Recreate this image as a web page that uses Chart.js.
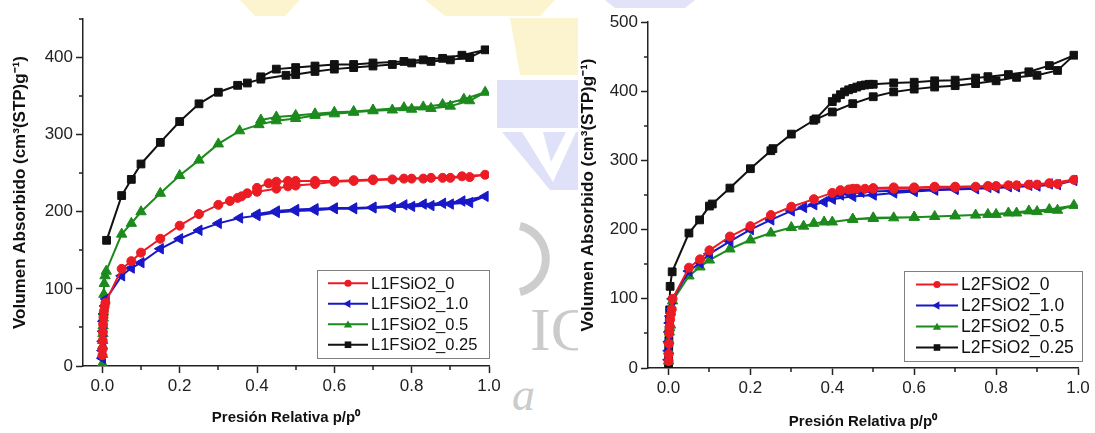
<!DOCTYPE html>
<html>
<head>
<meta charset="utf-8">
<script src="https://cdn.jsdelivr.net/npm/chart.js@4.4.0/dist/chart.umd.min.js"></script>
<style>
  html, body { margin: 0; padding: 0; background: #fff; }
  #wrap { position: relative; width: 1095px; height: 433px; overflow: hidden; }
  #bg { position: absolute; left: 0; top: 0; }
  .panel { position: absolute; top: 0; height: 433px; }
  #left { left: 0; width: 548px; }
  #right { left: 548px; width: 547px; }
</style>
</head>
<body>
<div id="wrap">
  <!-- faint page watermark behind the two plots -->
  <svg id="bg" width="1095" height="433">
    <polygon points="240,0 300,0 285,16 255,16" fill="#fcf4cf"/>
    <polygon points="425,0 555,0 540,16 445,16" fill="#fcf4cf"/>
    <polygon points="605,0 695,0 685,8 615,8" fill="#e2e3f9"/>
    <polygon points="510,18 578,18 578,75 520,75" fill="#fcf4cf"/>
    <rect x="497" y="80" width="81" height="48" fill="#dfe1f9"/>
    <polygon points="502,132 578,132 578,190 550,190" fill="#dfe1f9"/>
    <polygon points="522,132 543,132 551,162 566,132 576,132 553,182" fill="#ffffff"/>
    <path d="M 520 226 A 34 34 0 0 1 520 292" stroke="#cdcdcd" stroke-width="8" fill="none"/>
    <text x="530" y="350" font-family="Liberation Serif, serif" font-size="62" fill="#cbcbcb">IC</text>
    <text x="512" y="410" font-family="Liberation Serif, serif" font-style="italic" font-size="46" fill="#cbcbcb">a</text>
    <rect x="0" y="17" width="497" height="416" fill="#ffffff"/>
    <rect x="578" y="9" width="517" height="424" fill="#ffffff"/>
  </svg>
  <div class="panel" id="left"><canvas id="c1"></canvas></div>
  <div class="panel" id="right"><canvas id="c2"></canvas></div>
</div>
<script>
// axis ticks
const xMajor = [0, 0.2, 0.4, 0.6, 0.8, 1.0];
const xMinor = [0.1, 0.3, 0.5, 0.7, 0.9];
const y1Major = [0, 100, 200, 300, 400];
const y1Minor = [50, 150, 250, 350, 450];
const y2Major = [0, 100, 200, 300, 400, 500];
const y2Minor = [50, 150, 250, 350, 450];

const labels1 = ['L1FSiO2_0', 'L1FSiO2_1.0', 'L1FSiO2_0.5', 'L1FSiO2_0.25'];
const labels2 = ['L2FSiO2_0', 'L2FSiO2_1.0', 'L2FSiO2_0.5', 'L2FSiO2_0.25'];

// ---- left panel (L1), adsorption branch then desorption branch ----
const l1P_0 = [0.0003, 0.0006, 0.001, 0.0015, 0.002, 0.003, 0.004, 0.006, 0.008,
  0.05, 0.075, 0.1, 0.15, 0.2, 0.25, 0.3, 0.33, 0.35, 0.36, 0.375, 0.4, 0.45, 0.48, 0.5, 0.55, 0.6, 0.65, 0.7, 0.75, 0.8, 0.85, 0.9, 0.95, 0.99,
  0.93, 0.88, 0.83, 0.78, 0.7, 0.65, 0.6, 0.55, 0.5, 0.48, 0.45, 0.43, 0.4];
const l1V_0 = [14, 22, 33, 44, 54, 63, 71, 77, 82,
  126, 136, 147, 165, 182, 197, 209, 214, 218, 220, 224, 226, 230, 233, 234, 236, 239, 240, 241, 242, 243, 244, 244, 245, 248,
  246, 244, 243, 243, 242, 241, 240, 240, 240, 240, 239, 237, 231];

const l1P_1 = [0.0003, 0.0006, 0.001, 0.002, 0.003, 0.005, 0.007, 0.01,
  0.05, 0.075, 0.1, 0.15, 0.2, 0.25, 0.3, 0.355, 0.4, 0.45, 0.5, 0.55, 0.6, 0.65, 0.7, 0.75, 0.8, 0.85, 0.9, 0.95, 0.99,
  0.93, 0.88, 0.83, 0.78, 0.7, 0.65, 0.6, 0.55, 0.5, 0.45, 0.4];
const l1V_1 = [10, 20, 32, 45, 58, 68, 78, 87,
  117, 127, 134, 152, 165, 176, 185, 192, 195, 199, 201, 202, 204, 204, 205, 206, 207, 208, 210, 212, 220,
  214, 211, 210, 209, 206, 205, 205, 204, 203, 201, 197];

const l1P_05 = [0.0002, 0.0004, 0.0007, 0.001, 0.0015, 0.002, 0.0025, 0.003, 0.004, 0.005, 0.007, 0.01,
  0.05, 0.075, 0.1, 0.15, 0.2, 0.25, 0.3, 0.355, 0.405, 0.45, 0.5, 0.55, 0.6, 0.65, 0.7, 0.75, 0.8, 0.85, 0.9, 0.95, 0.99,
  0.935, 0.88, 0.83, 0.78, 0.7, 0.65, 0.6, 0.55, 0.5, 0.45, 0.41];
const l1V_05 = [3, 15, 26, 33, 42, 52, 62, 70, 93, 107, 117, 123,
  171, 185, 200, 224, 247, 267, 288, 305, 313, 318, 321, 325, 327, 329, 331, 332, 333, 334, 337, 344, 355,
  346, 339, 336, 335, 332, 330, 329, 327, 325, 323, 319];

const l1P_025 = [0.011, 0.05, 0.075, 0.1, 0.15, 0.2, 0.25, 0.3, 0.35, 0.375, 0.41, 0.475, 0.5, 0.55, 0.6, 0.65, 0.7, 0.75, 0.8, 0.85, 0.9, 0.95, 0.99,
  0.93, 0.88, 0.83, 0.78, 0.7, 0.65, 0.6, 0.55, 0.5, 0.45, 0.41];
const l1V_025 = [163, 221, 242, 262, 290, 317, 340, 355, 364, 367, 372, 377, 378, 382, 385, 387, 389, 391, 393, 395, 397, 400, 410,
  403, 399, 397, 395, 393, 391, 391, 389, 387, 385, 375];

// ---- right panel (L2) ----
const l2P_0 = [0.0003, 0.0006, 0.001, 0.002, 0.003, 0.004, 0.006, 0.008,
  0.01, 0.05, 0.077, 0.1, 0.15, 0.2, 0.25, 0.3, 0.355, 0.4, 0.42, 0.44, 0.46, 0.48, 0.5, 0.55, 0.6, 0.65, 0.7, 0.75, 0.8, 0.85, 0.9, 0.95, 0.99,
  0.93, 0.88, 0.83, 0.78, 0.7, 0.65, 0.6, 0.55, 0.5, 0.45, 0.42];
const l2V_0 = [10, 20, 35, 50, 60, 70, 78, 85,
  100, 145, 157, 170, 190, 205, 221, 233, 244, 253, 256, 258, 259, 259, 259, 259, 260, 261, 261, 262, 263, 264, 265, 266, 272,
  267, 265, 264, 263, 262, 262, 261, 261, 260, 259, 257];

const l2P_1 = [0.0003, 0.0006, 0.001, 0.002, 0.003, 0.005, 0.007,
  0.01, 0.05, 0.077, 0.1, 0.15, 0.2, 0.25, 0.3, 0.33, 0.355, 0.38, 0.4, 0.45, 0.5, 0.55, 0.6, 0.65, 0.7, 0.75, 0.8, 0.85, 0.9, 0.95, 0.99,
  0.93, 0.88, 0.83, 0.78, 0.7, 0.65, 0.6, 0.55, 0.5, 0.47, 0.44, 0.42, 0.4];
const l2V_1 = [12, 25, 38, 52, 65, 75, 85,
  100, 140, 152, 165, 183, 200, 214, 227, 232, 236, 240, 244, 248, 250, 253, 255, 257, 258, 259, 260, 262, 263, 265, 271,
  266, 264, 262, 261, 259, 258, 257, 256, 255, 254, 252, 250, 246];

const l2P_05 = [0.0003, 0.0006, 0.001, 0.002, 0.003, 0.005,
  0.01, 0.05, 0.077, 0.1, 0.15, 0.2, 0.25, 0.3, 0.33, 0.355, 0.38, 0.4, 0.45, 0.5, 0.55, 0.6, 0.65, 0.7, 0.75, 0.8, 0.85, 0.9, 0.95, 0.99,
  0.93, 0.88, 0.83, 0.78, 0.7, 0.6, 0.5, 0.45];
const l2V_05 = [10, 25, 40, 52, 58, 62,
  97, 133, 146, 156, 172, 185, 195, 203, 205, 209, 211, 211, 215, 216, 217, 218, 219, 220, 221, 222, 224, 226, 228, 235,
  229, 227, 224, 222, 220, 218, 217, 215];

const l2P_025 = [0.0002, 0.0004, 0.0007, 0.001, 0.0015, 0.002, 0.003,
  0.004, 0.009, 0.05, 0.076, 0.1, 0.107, 0.15, 0.2, 0.25, 0.255, 0.3, 0.355, 0.4, 0.45, 0.5, 0.55, 0.6, 0.65, 0.7, 0.75, 0.8, 0.85, 0.9, 0.95, 0.99,
  0.93, 0.88, 0.83, 0.78, 0.75, 0.7, 0.65, 0.6, 0.55, 0.5, 0.49, 0.48, 0.47, 0.46, 0.45, 0.44, 0.43, 0.42, 0.41, 0.4, 0.36];
const l2V_025 = [0, 15, 30, 40, 55, 70, 84,
  118, 139, 195, 214, 234, 237, 260, 288, 314, 317, 338, 358, 370, 382, 392, 399, 403, 406, 408, 411, 415, 420, 423, 430, 452,
  437, 428, 424, 421, 419, 416, 415, 413, 412, 410, 410, 409, 408, 406, 404, 402, 399, 395, 390, 385, 360];

const RED = '#ec1c24', BLUE = '#1818c8', GREEN = '#1d8a1d', BLACK = '#111111';
const FONT = '"Liberation Sans", Arial, sans-serif';

const pts = (xs, ys) => xs.map((x, i) => ({ x: x, y: ys[i] }));

function series(label, xs, ys, color, style, radius, rotation) {
  return {
    label: label,
    data: pts(xs, ys),
    borderColor: color,
    backgroundColor: color,
    pointBackgroundColor: color,
    pointBorderColor: color,
    pointStyle: style,
    pointRadius: radius,
    pointRotation: rotation || 0,
    pointBorderWidth: 1,
    borderWidth: 2,
    showLine: true,
    tension: 0
  };
}

// marker used by the legend box
function marker(ctx, style, x, y, r, rot) {
  ctx.beginPath();
  if (style === 'circle') {
    ctx.arc(x, y, r, 0, Math.PI * 2);
  } else if (style === 'rect') {
    const s = r * 0.75;
    ctx.rect(x - s, y - s, 2 * s, 2 * s);
  } else {
    const a0 = (rot - 90) * Math.PI / 180;
    for (let k = 0; k < 3; k++) {
      const a = a0 + k * 2 * Math.PI / 3;
      const px = x + r * Math.cos(a), py = y + r * Math.sin(a) + (rot === 0 ? r * 0.2 : 0);
      k === 0 ? ctx.moveTo(px, py) : ctx.lineTo(px, py);
    }
    ctx.closePath();
  }
  ctx.fill();
}

const boxLegend = {
  id: 'boxLegend',
  afterDatasetsDraw(chart, args, opts) {
    const { ctx, chartArea } = chart;
    const w = opts.width, h = opts.height;
    const x0 = chartArea.right - w - opts.right;
    const y0 = chartArea.bottom - h - opts.bottom;
    ctx.save();
    ctx.fillStyle = '#fff';
    ctx.fillRect(x0, y0, w, h);
    ctx.strokeStyle = '#808080';
    ctx.lineWidth = 1;
    ctx.strokeRect(Math.round(x0) + 0.5, Math.round(y0) + 0.5, w, h);
    const n = chart.data.datasets.length;
    const rowH = (h - 6) / n;
    chart.data.datasets.forEach((ds, i) => {
      const cy = y0 + 3 + rowH * (i + 0.5);
      ctx.strokeStyle = ds.borderColor;
      ctx.fillStyle = ds.borderColor;
      ctx.lineWidth = 2;
      ctx.beginPath();
      ctx.moveTo(x0 + opts.lineFrom, cy);
      ctx.lineTo(x0 + opts.lineTo, cy);
      ctx.stroke();
      marker(ctx, ds.pointStyle, x0 + (opts.lineFrom + opts.lineTo) / 2, cy, ds.pointRadius * 0.8, ds.pointRotation);
      ctx.fillStyle = '#111';
      ctx.font = opts.fontSize + 'px ' + FONT;
      ctx.textBaseline = 'middle';
      ctx.textAlign = 'left';
      ctx.fillText(ds.label, x0 + opts.textAt, cy + 1);
    });
    ctx.restore();
  }
};

const minorTicks = {
  id: 'minorTicks',
  afterDraw(chart, args, opts) {
    const ctx = chart.ctx;
    const xs = chart.scales.x, ys = chart.scales.y;
    ctx.save();
    ctx.strokeStyle = '#222';
    ctx.lineWidth = 1.5;
    opts.x.forEach(v => {
      const px = Math.round(xs.getPixelForValue(v));
      ctx.beginPath();
      ctx.moveTo(px, xs.top);
      ctx.lineTo(px, xs.top + 4);
      ctx.stroke();
    });
    opts.y.forEach(v => {
      const py = Math.round(ys.getPixelForValue(v));
      ctx.beginPath();
      ctx.moveTo(ys.right, py);
      ctx.lineTo(ys.right - 4, py);
      ctx.stroke();
    });
    ctx.restore();
  }
};

function makeChart(canvasId, datasets, o) {
  return new Chart(document.getElementById(canvasId), {
    type: 'scatter',
    data: { datasets: datasets },
    plugins: [minorTicks, boxLegend],
    options: {
      responsive: true,
      maintainAspectRatio: false,
      animation: false,
      layout: { padding: { left: 0, top: o.top, right: o.right, bottom: 0 } },
      plugins: {
        legend: { display: false },
        tooltip: { enabled: false },
        minorTicks: { x: xMinor, y: o.yMinor },
        boxLegend: o.legend
      },
      scales: {
        x: {
          type: 'linear',
          min: -0.05,
          max: 1.0,
          afterBuildTicks: s => { s.ticks = xMajor.map(v => ({ value: v })); },
          afterFit: s => { s.height = o.xHeight; },
          border: { color: '#222', width: 1.5 },
          grid: { drawOnChartArea: false, drawTicks: true, tickLength: 7, tickWidth: 1.5, tickColor: '#222' },
          ticks: { color: '#222', font: { family: FONT, size: 17 }, padding: 3, maxRotation: 0, callback: v => v.toFixed(1) },
          title: { display: true, text: 'Presión Relativa p/p⁰', color: '#111', font: { family: FONT, size: 15, weight: 'bold' }, padding: { top: 0, bottom: o.xTitlePad } }
        },
        y: {
          type: 'linear',
          min: 0,
          max: o.yMax,
          afterBuildTicks: s => { s.ticks = o.yMajor.map(v => ({ value: v })); },
          afterFit: s => { s.width = o.yWidth; },
          border: { color: '#222', width: 1.5 },
          grid: { drawOnChartArea: false, drawTicks: true, tickLength: 7, tickWidth: 1.5, tickColor: '#222' },
          ticks: { color: '#222', font: { family: FONT, size: 17 }, padding: 3 },
          title: { display: true, text: 'Volumen Absorbido (cm³(STP)g⁻¹)', color: '#111', font: { family: FONT, size: 17, weight: 'bold' }, padding: { top: o.yTitlePad, bottom: 0 } }
        }
      }
    }
  });
}

makeChart('c1', [
  series(labels1[0], l1P_0, l1V_0, RED, 'circle', 4.5, 0),
  series(labels1[1], l1P_1, l1V_1, BLUE, 'triangle', 6, -90),
  series(labels1[2], l1P_05, l1V_05, GREEN, 'triangle', 6, 0),
  series(labels1[3], l1P_025, l1V_025, BLACK, 'rect', 5.5, 0)
], { top: 19, right: 59, xHeight: 67, yWidth: 83, yMax: 450, yMajor: y1Major, yMinor: y1Minor, yTitlePad: 10, xTitlePad: 6,
     legend: { width: 172, height: 88, right: 0, bottom: 8, lineFrom: 11, lineTo: 51, textAt: 54, fontSize: 16.5 } });

makeChart('c2', [
  series(labels2[0], l2P_0, l2V_0, RED, 'circle', 4.5, 0),
  series(labels2[1], l2P_1, l2V_1, BLUE, 'triangle', 6, -90),
  series(labels2[2], l2P_05, l2V_05, GREEN, 'triangle', 6, 0),
  series(labels2[3], l2P_025, l2V_025, BLACK, 'rect', 5.5, 0)
], { top: 22, right: 17, xHeight: 65, yWidth: 100, yMax: 500, yMajor: y2Major, yMinor: y2Minor, yTitlePad: 30, xTitlePad: 2,
     legend: { width: 178, height: 90, right: -4, bottom: 7, lineFrom: 12, lineTo: 54, textAt: 57, fontSize: 17.5 } });
</script>
</body>
</html>
